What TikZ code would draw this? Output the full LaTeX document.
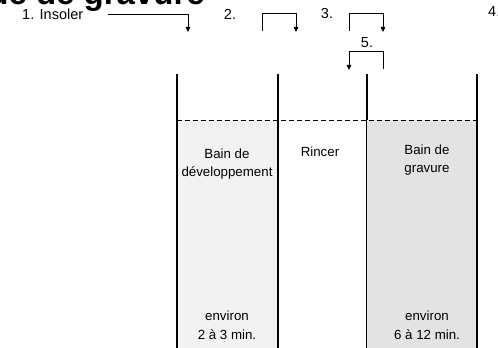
\documentclass[tikz,border=0pt]{standalone}
\usepackage{fontspec}
\setmainfont{Liberation Sans}
\usetikzlibrary{positioning,arrows.meta}

\begin{document}
\begin{tikzpicture}[x=1pt, y=1pt,
    wall/.style={line width=2pt, black},
    thinwall/.style={line width=0.8pt, black},
    lbl/.style={align=center, font=\fontsize{13.3}{18.5}\selectfont, inner sep=0pt},
    steplbl/.style={font=\fontsize{14.5}{16}\selectfont, inner sep=0pt},
    a/.style={-{Triangle[length=5pt,width=4.5pt]}, line width=0.8pt}
]
    \useasboundingbox (0,0) rectangle (498,348);
    % bains
    \fill[gray!10!white] (177,0) rectangle (277.5,228);
    \fill[gray!22!white] (366.5,0) rectangle (476.5,228);
    \draw[dashed, dash pattern=on 5pt off 3pt, line width=0.7pt] (177,228) -- (476.5,228);
    \draw[wall] (177,274) -- (177,0);
    \draw[wall] (277.5,274) -- (277.5,0);
    \draw[wall] (366.5,274) -- (366.5,228);
    \draw[thinwall] (366.5,228) -- (366.5,0);
    \draw[wall] (476.5,274) -- (476.5,0);

    % titre (coupe)
    \node[anchor=base east, inner sep=0pt, font=\fontsize{33}{36}\selectfont\bfseries] (titre) at (205,343.5) {Procédé de gravure};

    % textes des bains
    \node[lbl] (dev)  at (227,184) {Bain de\\développement};
    \node[lbl] (rin)  at (320,196) {Rincer};
    \node[lbl] (grav) at (427,188) {Bain de\\gravure};
    \node[lbl] (tdev)  at (227,23) {environ\\2 à 3 min.};
    \node[lbl] (tgrav) at (427,23) {environ\\6 à 12 min.};

    % etapes
    \node[steplbl, anchor=west] (s1) at (22,334) {1. Insoler};
    \node[steplbl] (s2) at (230,334) {2.};
    \node[steplbl] (s3) at (327,334) {3.};
    \node[steplbl] (s5) at (367,305) {5.};
    \node[steplbl, anchor=west] (s4) at (488,336) {4.};

    \coordinate (p1a) at (108,334);
    \coordinate (p1b) at (188,316);
    \coordinate (p2a) at (262,317);
    \coordinate (p2b) at (296,316);
    \coordinate (p3a) at (349,317);
    \coordinate (p3b) at (383,316);
    \coordinate (p5a) at (383,279);
    \coordinate (p5b) at (349,278);

    \draw[a] (p1a) -| (p1b);
    \draw[a] (p2a) -- ++(0,18) -| (p2b);
    \draw[a] (p3a) -- ++(0,18) -| (p3b);
    \draw[a] (p5a) -- ++(0,18) -| (p5b);
\end{tikzpicture}
\end{document}
